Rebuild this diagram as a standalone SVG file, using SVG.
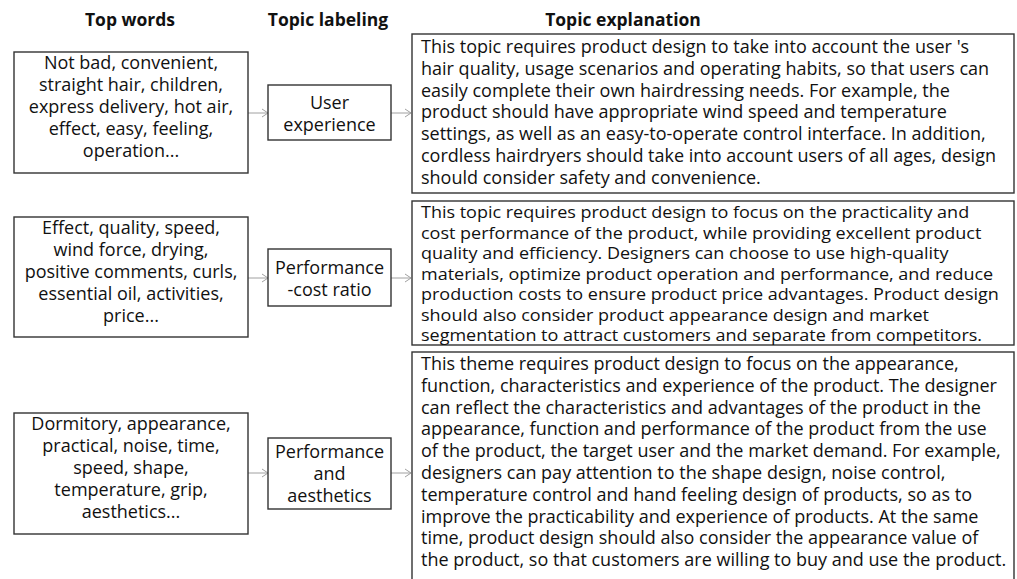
<svg xmlns="http://www.w3.org/2000/svg" width="1017" height="579" viewBox="0 0 1017 579">
<style>
  .box{fill:#fff;stroke:#333;stroke-width:1.4}
  .t{font-family:"Open Sans","Noto Sans","Liberation Sans",sans-serif;font-size:18px;fill:#111}
  .s{font-size:16.5px}
  .c{text-anchor:middle}
  .h{font-family:"Open Sans","Noto Sans","Liberation Sans",sans-serif;font-size:17.5px;font-weight:bold;fill:#111;text-anchor:middle}
  .conn{stroke:#a0a0a0;stroke-width:1;fill:none}
</style>
<defs>
  <marker id="arr" markerWidth="8" markerHeight="10" refX="7" refY="5" orient="auto" markerUnits="userSpaceOnUse">
    <path d="M1,1 L7,5 L1,9" fill="none" stroke="#a0a0a0" stroke-width="1"/>
  </marker>
</defs>
<rect width="1017" height="579" fill="#fff"/>
<g id="headers">
  <text class="h" x="130" y="26">Top words</text>
  <text class="h" x="328" y="26">Topic labeling</text>
  <text class="h" x="623" y="26">Topic explanation</text>
</g>
<g id="connectors">
  <line class="conn" x1="248" y1="113" x2="268" y2="113" marker-end="url(#arr)"/>
  <line class="conn" x1="391" y1="113" x2="411" y2="113" marker-end="url(#arr)"/>
  <line class="conn" x1="248" y1="278" x2="268" y2="278" marker-end="url(#arr)"/>
  <line class="conn" x1="391" y1="278" x2="411" y2="278" marker-end="url(#arr)"/>
  <line class="conn" x1="248" y1="473" x2="268" y2="473" marker-end="url(#arr)"/>
  <line class="conn" x1="391" y1="473" x2="411" y2="473" marker-end="url(#arr)"/>
</g>
<g id="words1">
  <rect class="box" x="14" y="52" width="234" height="121"/>
  <text class="t c" x="131" y="69">Not bad, convenient,</text>
  <text class="t c" x="131" y="91">straight hair, children,</text>
  <text class="t c" x="131" y="113">express delivery, hot air,</text>
  <text class="t c" x="131" y="135">effect, easy, feeling,</text>
  <text class="t c" x="131" y="157">operation...</text>
</g>
<g id="label1">
  <rect class="box" x="268" y="85" width="123" height="55"/>
  <text class="t c" x="329.5" y="109">User</text>
  <text class="t c" x="329.5" y="131">experience</text>
</g>
<g id="expl1">
  <rect class="box" x="412" y="34" width="602" height="159"/>
  <text class="t" x="421" y="53">This topic requires product design to take into account the user 's</text>
  <text class="t" x="421" y="74.8">hair quality, usage scenarios and operating habits, so that users can</text>
  <text class="t" x="421" y="96.6">easily complete their own hairdressing needs. For example, the</text>
  <text class="t" x="421" y="118.4">product should have appropriate wind speed and temperature</text>
  <text class="t" x="421" y="140.2">settings, as well as an easy-to-operate control interface. In addition,</text>
  <text class="t" x="421" y="162">cordless hairdryers should take into account users of all ages, design</text>
  <text class="t" x="421" y="183.8">should consider safety and convenience.</text>
</g>
<g id="words2">
  <rect class="box" x="14" y="217" width="234" height="120"/>
  <text class="t c" x="131" y="234">Effect, quality, speed,</text>
  <text class="t c" x="131" y="256">wind force, drying,</text>
  <text class="t c" x="131" y="278">positive comments, curls,</text>
  <text class="t c" x="131" y="300">essential oil, activities,</text>
  <text class="t c" x="131" y="322">price...</text>
</g>
<g id="label2">
  <rect class="box" x="268" y="249" width="123" height="57"/>
  <text class="t c" x="329.5" y="274">Performance</text>
  <text class="t c" x="329.5" y="296">-cost ratio</text>
</g>
<g id="expl2">
  <rect class="box" x="412" y="201" width="602" height="144"/>
  <g transform="translate(421 0) scale(1.0909 1)">
    <text class="t s" x="0" y="218.5">This topic requires product design to focus on the practicality and</text>
    <text class="t s" x="0" y="238.95">cost performance of the product, while providing excellent product</text>
    <text class="t s" x="0" y="259.4">quality and efficiency. Designers can choose to use high-quality</text>
    <text class="t s" x="0" y="279.85">materials, optimize product operation and performance, and reduce</text>
    <text class="t s" x="0" y="300.3">production costs to ensure product price advantages. Product design</text>
    <text class="t s" x="0" y="320.75">should also consider product appearance design and market</text>
    <text class="t s" x="0" y="341.2">segmentation to attract customers and separate from competitors.</text>
  </g>
</g>
<g id="words3">
  <rect class="box" x="14" y="413" width="234" height="121"/>
  <text class="t c" x="131" y="430">Dormitory, appearance,</text>
  <text class="t c" x="131" y="452">practical, noise, time,</text>
  <text class="t c" x="131" y="474">speed, shape,</text>
  <text class="t c" x="131" y="496">temperature, grip,</text>
  <text class="t c" x="131" y="518">aesthetics...</text>
</g>
<g id="label3">
  <rect class="box" x="268" y="438" width="123" height="71"/>
  <text class="t c" x="329.5" y="458">Performance</text>
  <text class="t c" x="329.5" y="480">and</text>
  <text class="t c" x="329.5" y="502">aesthetics</text>
</g>
<g id="expl3">
  <rect class="box" x="412" y="352" width="602" height="236"/>
  <text class="t" x="421" y="370">This theme requires product design to focus on the appearance,</text>
  <text class="t" x="421" y="391.8">function, characteristics and experience of the product. The designer</text>
  <text class="t" x="421" y="413.6">can reflect the characteristics and advantages of the product in the</text>
  <text class="t" x="421" y="435.4">appearance, function and performance of the product from the use</text>
  <text class="t" x="421" y="457.2">of the product, the target user and the market demand. For example,</text>
  <text class="t" x="421" y="479">designers can pay attention to the shape design, noise control,</text>
  <text class="t" x="421" y="500.8">temperature control and hand feeling design of products, so as to</text>
  <text class="t" x="421" y="522.6">improve the practicability and experience of products. At the same</text>
  <text class="t" x="421" y="544.4">time, product design should also consider the appearance value of</text>
  <text class="t" x="421" y="566.2">the product, so that customers are willing to buy and use the product.</text>
</g>
</svg>
